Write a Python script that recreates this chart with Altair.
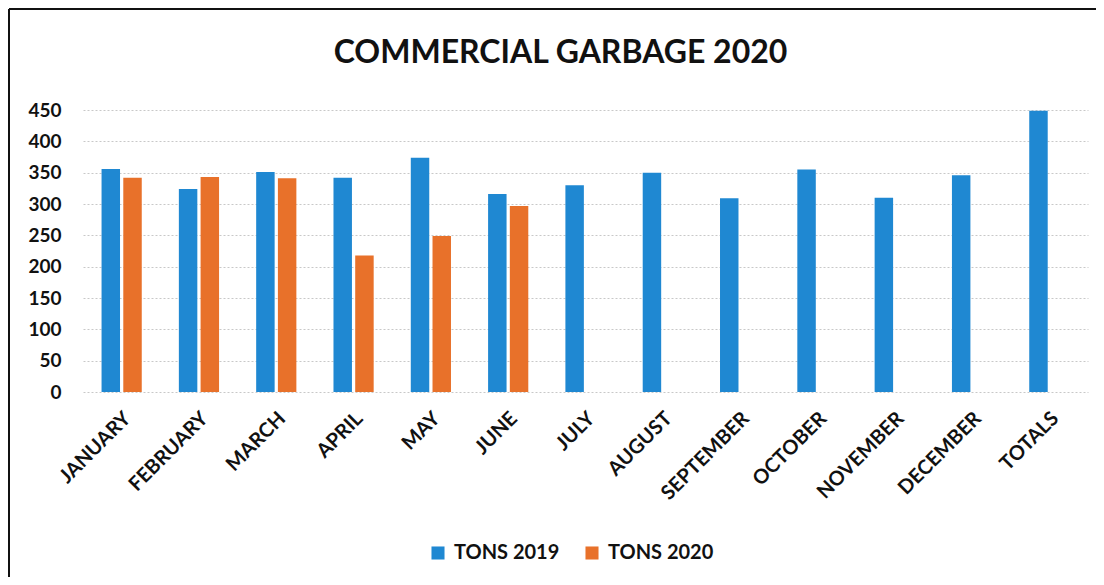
import altair as alt
import pandas as pd

months = ["JANUARY", "FEBRUARY", "MARCH", "APRIL", "MAY", "JUNE", "JULY",
          "AUGUST", "SEPTEMBER", "OCTOBER", "NOVEMBER", "DECEMBER", "TOTALS"]
tons_2019 = [356, 324, 351, 342, 374, 316, 330, 350, 309, 355, 310, 346, 449]
tons_2020 = [342, 343, 341, 218, 249, 297]
series_names = ["TONS 2019", "TONS 2020"]
colors = ["#1F88D2", "#E8712A"]

rows = []
for m, v in zip(months, tons_2019):
    rows.append({"month": m, "series": series_names[0], "value": v})
for m, v in zip(months, tons_2020):
    rows.append({"month": m, "series": series_names[1], "value": v})
df = pd.DataFrame(rows)

FONT = "Lato"

bars = alt.Chart(df).mark_bar().encode(
    x=alt.X("month:N", sort=months, title=None,
            scale=alt.Scale(paddingInner=0.48, paddingOuter=0.24),
            axis=alt.Axis(labelAngle=-45, labelAlign="right", labelBaseline="top",
                          labelFontSize=20, labelFontWeight="bold", labelFont=FONT,
                          labelColor="#111111", labelPadding=16, labelOffset=-1,
                          ticks=False, domain=False, grid=False)),
    xOffset=alt.XOffset("series:N", sort=series_names,
                        scale=alt.Scale(paddingInner=0.15, paddingOuter=0)),
    y=alt.Y("value:Q", title=None,
            scale=alt.Scale(domain=[0, 450], nice=False),
            axis=alt.Axis(values=list(range(0, 451, 50)), labelFontSize=19,
                          labelFontWeight="bold", labelFont=FONT, labelColor="#111111",
                          labelPadding=22, ticks=False, domain=False,
                          grid=True, gridColor="#c8c8c8", gridDash=[2, 2], gridWidth=1)),
    color=alt.Color("series:N", sort=series_names,
                    scale=alt.Scale(domain=series_names, range=colors),
                    legend=alt.Legend(title=None, orient="none", direction="horizontal",
                                      legendX=345, legendY=433, symbolType="square",
                                      symbolSize=170, symbolStrokeWidth=0,
                                      labelFontSize=20, labelFontWeight="bold",
                                      labelFont=FONT, labelColor="#111111",
                                      columnPadding=22, symbolOffset=0, labelOffset=6)),
)

frame_df = pd.DataFrame({"k": [0]})
left_line = alt.Chart(frame_df).mark_rule(color="#111111", strokeWidth=2).encode(
    x=alt.value(-74), y=alt.value(-101), y2=alt.value(470))
top_line = alt.Chart(frame_df).mark_rule(color="#111111", strokeWidth=2).encode(
    x=alt.value(-74), x2=alt.value(1013), y=alt.value(-101))

chart = alt.layer(bars, left_line, top_line).properties(
    width=1005, height=282,
    background="white",
    title=alt.TitleParams("COMMERCIAL GARBAGE 2020", fontSize=32, fontWeight="bold",
                          font=FONT, color="#111111", anchor="middle", dx=-25,
                          offset=-94, baseline="bottom"),
    autosize=alt.AutoSizeParams(type="none"),
    padding={"left": 75, "top": 102, "right": 8, "bottom": 185},
).configure_view(stroke="transparent", strokeWidth=0)

chart.save("out.html", embed_options={"renderer": "svg", "actions": False})
